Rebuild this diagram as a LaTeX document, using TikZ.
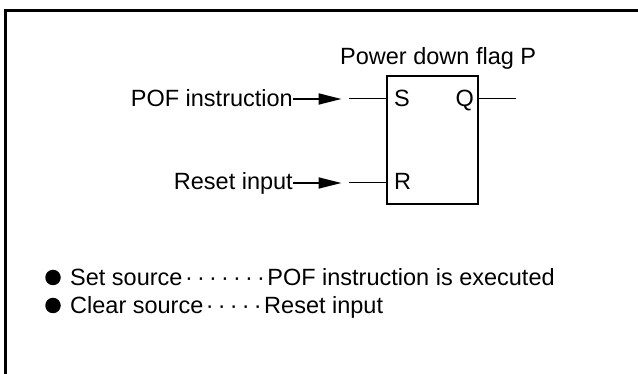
\documentclass[tikz,border=0pt]{standalone}
\usepackage{fontspec}
\setmainfont{Liberation Sans}
\usepackage{tikz}
\usetikzlibrary{arrows.meta,positioning,calc}

\newcommand{\dotrun}[1]{\foreach \i in {1,...,#1}{\makebox[12pt]{\textperiodcentered}}}

\begin{document}
\begin{tikzpicture}[x=1pt, y=-1pt, every node/.style={font=\fontsize{23.5}{28}\selectfont, inner sep=0pt}, flag/.style={draw, line width=2pt, minimum width=91pt, minimum height=127.5pt}, lbl/.style={anchor=base west}, rlbl/.style={anchor=base east}, pin/.style={line width=1pt}, feed/.style={line width=1.8pt, -{Triangle[length=23pt,width=11pt]}}, blob/.style={circle, fill=black, minimum size=15.5pt}]
    \useasboundingbox (0,0) rectangle (638,374);
    \draw[line width=3pt] (5,374) -- (5,10.5) -- (638,10.5);

    \node[flag] (ff) at (432.5,140.25) {};
    \node[lbl] (title) at (340,65) {Power down flag P};
    \node[lbl] (s) at (394,106.5) {S};
    \node[rlbl] (q) at (474,106.5) {Q};
    \node[lbl] (r) at (394,190) {R};

    \coordinate (sin) at (349,99);
    \coordinate (rin) at (349,183);
    \coordinate (qout) at (516,99);
    \draw[pin] (sin) -- (ff.west |- sin);
    \draw[pin] (rin) -- (ff.west |- rin);
    \draw[pin] (ff.east |- qout) -- (qout);

    \node[rlbl] (pof) at (293,106.5) {POF instruction};
    \node[rlbl] (rst) at (293,189.5) {Reset input};
    \coordinate (pofhead) at (341.5,99);
    \coordinate (rsthead) at (341.5,183);
    \draw[feed] (pof.east |- pofhead) -- (pofhead);
    \draw[feed] (rst.east |- rsthead) -- (rsthead);

    \foreach \y/\n/\left/\k/\right in {277.5/a/Set source/7/POF instruction is executed, 305.5/b/Clear source/5/Reset input}{
      \node[blob] (bul\n) at (53,\y) {};
      \node[lbl] (src\n) at (70,\y+8) {\left};
      \node[lbl] (dots\n) at (src\n.base east) {\dotrun{\k}};
      \node[lbl] (what\n) at (dots\n.base east) {\right};
    }
\end{tikzpicture}
\end{document}
